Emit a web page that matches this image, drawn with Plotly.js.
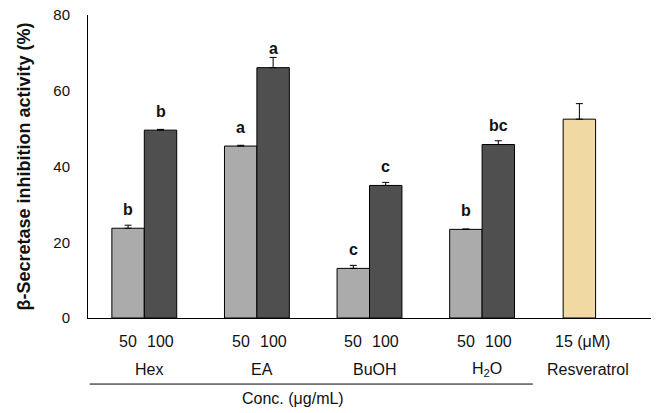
<!DOCTYPE html>
<html>
<head>
<meta charset="utf-8">
<script src="https://cdn.plot.ly/plotly-3.0.1.min.js"></script>
<style>
  html, body { margin: 0; padding: 0; background: #fff; }
  #chart { width: 656px; height: 413px; }
</style>
</head>
<body>
<div id="chart"></div>
<script>
// fractions and doses
var groups = ['Hex', 'EA', 'BuOH', 'H2O', 'Resveratrol'];
var groupLabels = ['Hex', 'EA', 'BuOH', 'H<sub>2</sub>O'];
var fractions = ['Hex', 'EA', 'BuOH', 'H2O'];
var doseLabels = ['50', '100'];

// beta-secretase inhibition (%)
var low50 = [23.7, 45.4, 13.1, 23.4];
var low50Err = [0.8, 0.2, 0.8, 0.1];
var high100 = [49.6, 66.1, 35.0, 45.8];
var high100Err = [0.2, 2.7, 0.8, 1.0];
var lowLetters = ['b', 'a', 'c', 'b'];
var highLetters = ['b', 'a', 'c', 'bc'];

var resvLabel = 'Resveratrol';
var resvDose = '15 (\u03bcM)';
var resvValue = [52.5];
var resvErr = [4.1];

var yTicks = [0, 20, 40, 60, 80];

var W = 0.288;          // bar width in category units
var RESV_SHIFT = -0.136; // resveratrol bar sits a bit left of its slot
var FONT = 'Liberation Sans, Arial, sans-serif';

function zeros(n) { var a = []; for (var i = 0; i < n; i++) a.push(0); return a; }

var trace50 = {
  type: 'bar', x: fractions, y: low50, width: W, offset: -W,
  marker: {color: '#ababab', line: {color: '#000', width: 1}},
  error_y: {type: 'data', array: low50Err, symmetric: false, arrayminus: zeros(4),
            color: '#000', thickness: 1, width: 3.5},
  hoverinfo: 'y'
};
var trace100 = {
  type: 'bar', x: fractions, y: high100, width: W, offset: 0,
  marker: {color: '#4f4f4f', line: {color: '#000', width: 1}},
  error_y: {type: 'data', array: high100Err, symmetric: false, arrayminus: zeros(4),
            color: '#000', thickness: 1, width: 3.5},
  hoverinfo: 'y'
};
var traceResv = {
  type: 'bar', x: [resvLabel], y: resvValue, width: W, offset: RESV_SHIFT - W / 2,
  marker: {color: '#f0d9a3', line: {color: '#000', width: 1}},
  error_y: {type: 'data', array: resvErr, symmetric: false, arrayminus: [0],
            color: '#000', thickness: 1, width: 3.5},
  hoverinfo: 'y'
};

var annotations = [];
var txt = {family: FONT, size: 16, color: '#111'};
var letterFont = {family: FONT, size: 16, color: '#111', weight: 'bold'};

// significance letters above bars
fractions.forEach(function (f, i) {
  annotations.push({x: i - W / 2, y: low50[i], text: lowLetters[i], showarrow: false,
    yanchor: 'middle', yshift: 19, font: letterFont});
  annotations.push({x: i + W / 2, y: high100[i], text: highLetters[i], showarrow: false,
    yanchor: 'middle', yshift: 19, font: letterFont});
  // dose labels
  annotations.push({x: i - W / 2, y: 0, yref: 'paper', text: doseLabels[0], showarrow: false,
    yanchor: 'middle', yshift: -23, font: txt});
  annotations.push({x: i + W / 2, y: 0, yref: 'paper', text: doseLabels[1], showarrow: false,
    yanchor: 'middle', yshift: -23, font: txt});
  annotations.push({x: i, y: 0, yref: 'paper', text: groupLabels[i], showarrow: false,
    yanchor: 'middle', yshift: -51, xshift: 5, font: txt});
});
annotations.push({x: 4 + RESV_SHIFT, y: 0, yref: 'paper', text: resvDose, showarrow: false,
  yanchor: 'middle', yshift: -23, xshift: 3, font: txt});
annotations.push({x: 4 + RESV_SHIFT, y: 0, yref: 'paper', text: resvLabel, showarrow: false,
  yanchor: 'middle', yshift: -51, xshift: 9, font: txt});
annotations.push({x: 0.365, xref: 'paper', y: 0, yref: 'paper', text: 'Conc. (\u03bcg/mL)',
  showarrow: false, yanchor: 'middle', yshift: -80, font: txt});
annotations.push({x: -0.1137, xref: 'paper', y: 0.5, yref: 'paper',
  text: '\u03b2-Secretase inhibition activity (%)', textangle: -90, showarrow: false,
  xanchor: 'center', yanchor: 'middle',
  font: {family: FONT, size: 18, color: '#111', weight: 'bold'}});

var layout = {
  width: 656, height: 413,
  margin: {l: 88, r: 5, t: 15, b: 95},
  paper_bgcolor: '#fff', plot_bgcolor: '#fff',
  barmode: 'overlay',
  showlegend: false,
  xaxis: {
    type: 'category', categoryarray: groups, range: [-0.5, 4.5],
    showticklabels: false, ticks: '', showgrid: false, zeroline: false,
    showline: true, linecolor: '#000', linewidth: 1, fixedrange: true
  },
  yaxis: {
    range: [0, 80], tickvals: yTicks, ticks: '', showgrid: false, zeroline: false,
    showline: true, linecolor: '#000', linewidth: 1, ticklabelstandoff: 14,
    tickfont: {family: FONT, size: 15, color: '#111'}, fixedrange: true
  },
  shapes: [{type: 'line', xref: 'paper', yref: 'paper', x0: 0.003, x1: 0.79,
            y0: -0.218, y1: -0.218, line: {color: '#000', width: 1}}],
  annotations: annotations
};

Plotly.newPlot('chart', [trace50, trace100, traceResv], layout, {displayModeBar: false, staticPlot: true});
</script>
</body>
</html>
